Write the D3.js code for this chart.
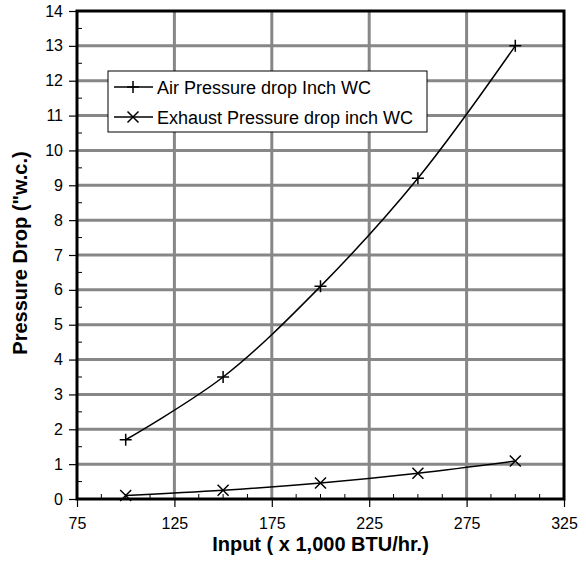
<!DOCTYPE html>
<html>
<head>
<meta charset="utf-8">
<script src="https://cdn.jsdelivr.net/npm/d3@7"></script>
<style>
  body { margin: 0; background: #fff; }
  text { font-family: "Liberation Sans", Arial, sans-serif; fill: #000; }
</style>
</head>
<body>
<svg id="chart"></svg>
<script>
const inputs = [100, 150, 200, 250, 300];
const airDrop = [1.7, 3.5, 6.1, 9.2, 13.0];
const exhaustDrop = [0.1, 0.25, 0.46, 0.74, 1.09];
const seriesNames = ["Air Pressure drop Inch WC", "Exhaust Pressure drop inch WC"];
const xTicks = [75, 125, 175, 225, 275, 325];
const yTicks = d3.range(0, 15);

{
    const margin = {top: 11, right: 22, bottom: 76, left: 77},
        width = 586 - margin.left - margin.right,
        height = 575 - margin.top - margin.bottom;

    const svg = d3.select("#chart")
        .attr("width", 586)
        .attr("height", 575);

    const chart = svg.append("g")
        .attr("transform", `translate(${margin.left}, ${margin.top})`);

    const x = d3.scaleLinear().domain([75, 325]).range([0, width]);
    const y = d3.scaleLinear().domain([0, 14]).range([height, 0]);

    // grid
    chart.append("g").selectAll("line")
        .data(yTicks.slice(1, -1))
        .enter().append("line")
            .attr("x1", 0).attr("x2", width)
            .attr("y1", d => y(d)).attr("y2", d => y(d))
            .attr("stroke", "#878787").attr("stroke-width", 3);
    chart.append("g").selectAll("line")
        .data(xTicks.slice(1, -1))
        .enter().append("line")
            .attr("y1", 0).attr("y2", height)
            .attr("x1", d => x(d)).attr("x2", d => x(d))
            .attr("stroke", "#878787").attr("stroke-width", 3);

    // minor ticks inside
    const xMinor = d3.range(87.5, 325, 12.5).filter(v => !xTicks.includes(v));
    chart.append("g").selectAll("line")
        .data(xMinor)
        .enter().append("line")
            .attr("x1", d => x(d)).attr("x2", d => x(d))
            .attr("y1", height).attr("y2", height - 5)
            .attr("stroke", "#000").attr("stroke-width", 1);
    const yMinor = d3.range(0.5, 14, 1);
    chart.append("g").selectAll("line")
        .data(yMinor)
        .enter().append("line")
            .attr("x1", 0).attr("x2", 5)
            .attr("y1", d => y(d)).attr("y2", d => y(d))
            .attr("stroke", "#000").attr("stroke-width", 1);

    // frame
    chart.append("rect")
        .attr("width", width).attr("height", height)
        .attr("fill", "none").attr("stroke", "#000").attr("stroke-width", 3);

    // axes
    const xAxis = chart.append("g")
        .attr("transform", `translate(0, ${height})`)
        .call(d3.axisBottom(x).tickValues(xTicks).tickSize(8).tickPadding(11));
    const yAxis = chart.append("g")
        .call(d3.axisLeft(y).tickValues(yTicks).tickSize(8).tickPadding(6));
    [xAxis, yAxis].forEach(a => {
        a.select(".domain").remove();
        a.selectAll(".tick line").attr("stroke", "#000").attr("stroke-width", 1.2);
        a.selectAll(".tick text").style("font-family", "Liberation Sans, Arial, sans-serif")
            .style("font-size", "16px").attr("fill", "#000");
    });

    // series
    const line = d3.line()
        .x((d, i) => x(inputs[i]))
        .y(d => y(d))
        .curve(d3.curveCatmullRom.alpha(0.5));

    const plus = (g, cx, cy) => g.append("path")
        .attr("d", `M${cx - 6},${cy}H${cx + 6}M${cx},${cy - 6}V${cy + 6}`)
        .attr("stroke", "#000").attr("stroke-width", 1.5).attr("fill", "none");
    const cross = (g, cx, cy) => g.append("path")
        .attr("d", `M${cx - 5.5},${cy - 5.5}L${cx + 5.5},${cy + 5.5}M${cx - 5.5},${cy + 5.5}L${cx + 5.5},${cy - 5.5}`)
        .attr("stroke", "#000").attr("stroke-width", 1.5).attr("fill", "none");

    [[airDrop, plus], [exhaustDrop, cross]].forEach(([vals, mark]) => {
        chart.append("path")
            .attr("d", line(vals))
            .attr("fill", "none").attr("stroke", "#000").attr("stroke-width", 1.5);
        const g = chart.append("g");
        vals.forEach((v, i) => mark(g, x(inputs[i]), y(v)));
    });

    // legend
    const legend = svg.append("g").attr("transform", "translate(108, 71)");
    legend.append("rect")
        .attr("width", 319).attr("height", 61)
        .attr("fill", "#fff").attr("stroke", "#000").attr("stroke-width", 1);
    [plus, cross].forEach((mark, i) => {
        const cy = 16 + i * 30;
        legend.append("line")
            .attr("x1", 6).attr("x2", 45).attr("y1", cy).attr("y2", cy)
            .attr("stroke", "#000").attr("stroke-width", 1.5);
        mark(legend, 25, cy);
        legend.append("text")
            .attr("x", 49).attr("y", cy + 6.5)
            .style("font-size", "18px")
            .text(seriesNames[i]);
    });

    // titles
    svg.append("text")
        .attr("x", margin.left + width / 2).attr("y", 551)
        .attr("text-anchor", "middle")
        .style("font-size", "20px").style("font-weight", "bold")
        .text("Input ( x 1,000 BTU/hr.)");
    svg.append("text")
        .attr("transform", "translate(27, 253) rotate(-90)")
        .attr("text-anchor", "middle")
        .style("font-size", "20px").style("font-weight", "bold")
        .text("Pressure Drop (\"w.c.)");
}
</script>
</body>
</html>
